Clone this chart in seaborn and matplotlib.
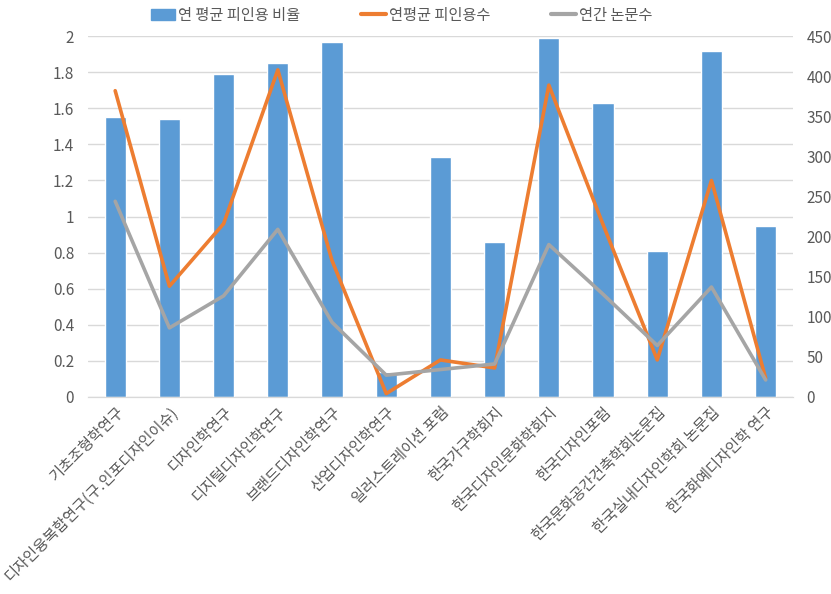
import numpy as np
import pandas as pd
import matplotlib
matplotlib.use("Agg")
import matplotlib.pyplot as plt
import seaborn as sns
from matplotlib.lines import Line2D
from matplotlib.patches import Patch

# 학술지별 데이터
journals = [
    "기초조형학연구",
    "디자인융복합연구(구.인포디자인이슈)",
    "디자인학연구",
    "디지털디자인학연구",
    "브랜드디자인학연구",
    "산업디자인학연구",
    "일러스트레이션 포럼",
    "한국가구학회지",
    "한국디자인문화학회지",
    "한국디자인포럼",
    "한국문화공간건축학회논문집",
    "한국실내디자인학회 논문집",
    "한국화예디자인학 연구",
]
cite_ratio = [1.55, 1.54, 1.79, 1.85, 1.97, 0.14, 1.33, 0.86, 1.99, 1.63, 0.81, 1.92, 0.95]
cite_count = [382, 138, 216, 408, 170, 4, 46, 36, 389, 215, 46, 270, 23]
paper_count = [244, 86, 126, 209, 93, 27, 34, 41, 190, 128, 64, 137, 21]

label_ratio = "연 평균 피인용 비율"
label_cite = "연평균 피인용수"
label_paper = "연간 논문수"

c_bar = "#5B9BD5"
c_orange = "#ED7D31"
c_gray = "#A5A5A5"
c_text = "#595959"

sns.set_style("white")
plt.rcParams["font.family"] = ["Noto Sans CJK KR", "DejaVu Sans"]

df = pd.DataFrame({
    "journal": journals,
    "pos": np.arange(len(journals)),
    "ratio": cite_ratio,
    "cite": cite_count,
    "paper": paper_count,
})

fig = plt.figure(figsize=(8.31, 5.94), dpi=100)
ax = fig.add_axes([0.106, 0.332, 0.848, 0.607])

sns.barplot(data=df, x="journal", y="ratio", color=c_bar, width=0.39,
            saturation=1, ax=ax, zorder=2)
ax.set_ylim(0, 2)
ax.set_yticks(np.arange(0, 2.01, 0.2))
ax.set_yticklabels([f"{v:g}" for v in np.arange(0, 2.01, 0.2).round(1)])
ax.set_xlim(-0.5, len(journals) - 0.5)
ax.grid(axis="y", color="#D9D9D9", linewidth=1, zorder=0)
ax.set_axisbelow(True)
ax.set_xlabel("")
ax.set_ylabel("")

ax2 = ax.twinx()
sns.lineplot(data=df, x="pos", y="cite", color=c_orange, linewidth=2.6,
             sort=False, ax=ax2)
sns.lineplot(data=df, x="pos", y="paper", color=c_gray, linewidth=2.6,
             sort=False, ax=ax2)
ax2.set_ylim(0, 450)
ax2.set_yticks(range(0, 451, 50))
ax2.set_xlim(-0.5, len(journals) - 0.5)
ax2.set_ylabel("")
ax2.set_xlabel("")

for a in (ax, ax2):
    for s in ("top", "left", "right"):
        a.spines[s].set_visible(False)
    a.spines["bottom"].set_color("#D9D9D9")
    a.tick_params(axis="y", length=0, labelsize=11, colors=c_text, pad=10)

ax.tick_params(axis="x", length=0, colors=c_text, pad=5)
ax.set_xticks(df["pos"])
ax.set_xticklabels(journals, rotation=45, ha="right", rotation_mode="anchor",
                   fontsize=11, color=c_text)

handles = [
    Patch(facecolor=c_bar, edgecolor=c_bar),
    Line2D([0], [0], color=c_orange, linewidth=3),
    Line2D([0], [0], color=c_gray, linewidth=3),
]
fig.legend(handles, [label_ratio, label_cite, label_paper], ncol=3,
           loc="upper center", bbox_to_anchor=(0.483, 1.012), frameon=False,
           fontsize=11, labelcolor=c_text, columnspacing=4.0,
           handlelength=1.6, handletextpad=0.2)

fig.savefig("out.png", dpi=100)
